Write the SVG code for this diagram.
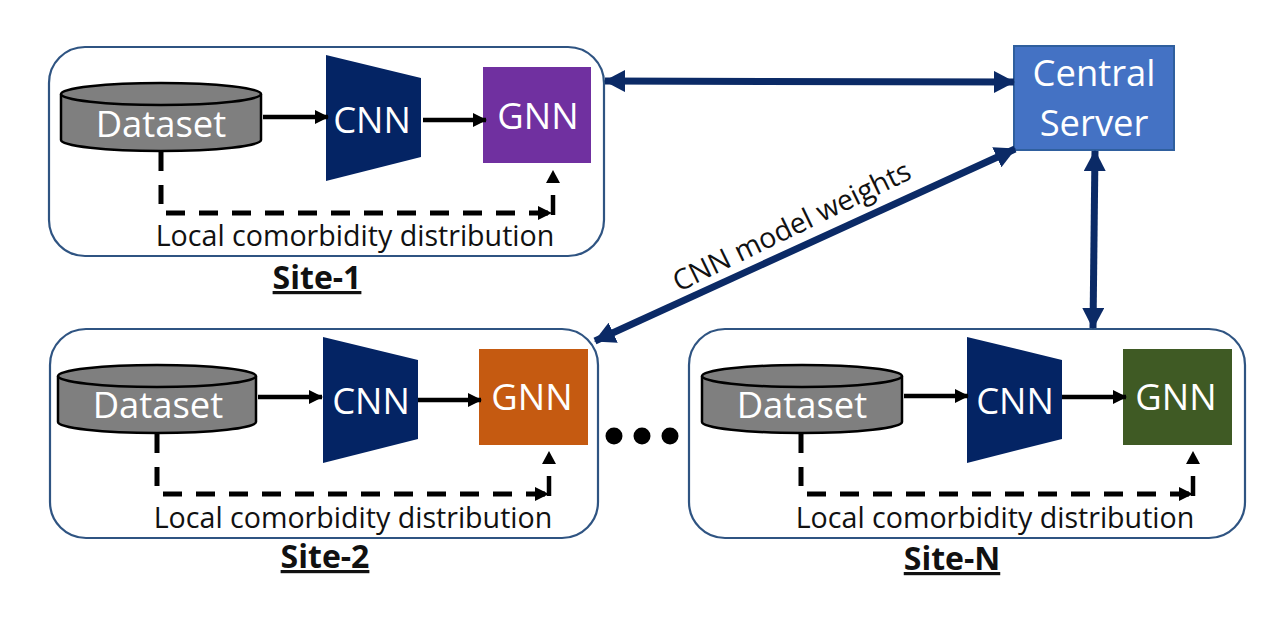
<svg xmlns="http://www.w3.org/2000/svg" width="1280" height="619" viewBox="0 0 1280 619">
<style>
text{font-family:"Open Sans","Noto Sans","Liberation Sans",sans-serif}
.site{fill:#fff;stroke:#2f5482;stroke-width:2.2}
.cyl{fill:#7f7f7f;stroke:#000;stroke-width:2.5}
.cnn{fill:#042464}
.w{fill:#fff;font-size:36.4px;text-anchor:middle}
.l{fill:#111;font-size:28.6px;text-anchor:middle}
.t{fill:#111;font-size:32px;font-weight:700;text-anchor:middle;text-decoration:underline}
.solid{fill:none;stroke:#000;stroke-width:4.5}
.dash{fill:none;stroke:#000;stroke-width:5;stroke-dasharray:19 14}
.big{fill:none;stroke:#0b2a66;stroke-width:7}
.hd{fill:#000}
.hb{fill:#0b2a66}
</style>
<defs>
<marker id="a" markerUnits="userSpaceOnUse" markerWidth="14" markerHeight="14" refX="13" refY="7" orient="auto"><path class="hd" d="M0 0L14 7L0 14z"/></marker>
<marker id="b" markerUnits="userSpaceOnUse" markerWidth="22" markerHeight="22" refX="20" refY="11" orient="auto-start-reverse"><path class="hb" d="M0 0L21 11L0 22z"/></marker>
</defs>
<g id="site-1">
<rect class="site" x="49" y="47" width="555" height="209" rx="36"/>
<path class="cyl" d="M61 94V140A100 11 0 0 0 261 140V94"/><ellipse class="cyl" cx="161" cy="94" rx="100" ry="11"/>
<text class="w" x="161" y="137">Dataset</text>
<polygon class="cnn" points="326,55 421,78 421,157 326,181"/><text class="w" x="372" y="133">CNN</text>
<rect x="483" y="67" width="108" height="96" fill="#7030a0"/><text class="w" x="538" y="129">GNN</text>
<text class="l" x="355" y="246">Local comorbidity distribution</text>
<text class="t" x="317" y="289">Site-1</text>
</g>
<g id="site-2">
<rect class="site" x="50" y="329" width="548" height="209" rx="36"/>
<path class="cyl" d="M58 376V422A99 11 0 0 0 256 422V376"/><ellipse class="cyl" cx="157" cy="376" rx="99" ry="11"/>
<text class="w" x="158" y="418">Dataset</text>
<polygon class="cnn" points="323,337 418,360 418,439 323,463"/><text class="w" x="371" y="414">CNN</text>
<rect x="479" y="349" width="109" height="96" fill="#c55a11"/><text class="w" x="532" y="410">GNN</text>
<text class="l" x="353" y="528">Local comorbidity distribution</text>
<text class="t" x="325" y="568">Site-2</text>
</g>
<g id="site-n">
<rect class="site" x="689" y="329" width="556" height="209" rx="36"/>
<path class="cyl" d="M702 376V422A100 11 0 0 0 902 422V376"/><ellipse class="cyl" cx="802" cy="376" rx="100" ry="11"/>
<text class="w" x="802" y="418">Dataset</text>
<polygon class="cnn" points="967,337 1062,360 1062,439 967,463"/><text class="w" x="1015" y="414">CNN</text>
<rect x="1123" y="349" width="109" height="96" fill="#3f5a24"/><text class="w" x="1176" y="410">GNN</text>
<text class="l" x="995" y="528">Local comorbidity distribution</text>
<text class="t" x="952" y="570">Site-N</text>
</g>
<g id="central-server">
<rect x="1014" y="46" width="160" height="104" fill="#4472c4" stroke="#2f5f9e" stroke-width="2"/>
<text class="w" x="1094" y="86">Central</text><text class="w" x="1094" y="136">Server</text>
</g>
<g id="dots"><circle cx="614" cy="436" r="8.5"/><circle cx="642" cy="436" r="8.5"/><circle cx="670" cy="436" r="8.5"/></g>
<g id="connectors">
<path class="solid" marker-end="url(#a)" d="M263 117H328"/>
<path class="solid" marker-end="url(#a)" d="M423 120H486"/>
<path class="dash" d="M161 152V213H552"/><path class="solid" d="M553 215V195"/><path class="hd" d="M553 170L560 183H546z"/><path class="hd" d="M538 206L552 213L538 220z"/>
<path class="solid" marker-end="url(#a)" d="M258 397H322"/>
<path class="solid" marker-end="url(#a)" d="M418 400H481"/>
<path class="dash" d="M157 434V494H549"/><path class="solid" d="M549 496V476"/><path class="hd" d="M549 451L556 464H542z"/><path class="hd" d="M535 487L549 494L535 501z"/>
<path class="solid" marker-end="url(#a)" d="M904 396H968"/>
<path class="solid" marker-end="url(#a)" d="M1062 397H1126"/>
<path class="dash" d="M801 434V494H1193"/><path class="solid" d="M1193 496V476"/><path class="hd" d="M1193 451L1200 464H1186z"/><path class="hd" d="M1179 487L1193 494L1179 501z"/>
<path class="big" marker-start="url(#b)" marker-end="url(#b)" d="M605 81L1014 82"/>
<path class="big" marker-start="url(#b)" marker-end="url(#b)" d="M1015 149L595 341"/>
<path class="big" marker-start="url(#b)" marker-end="url(#b)" d="M1095 151L1093 328"/>
</g>
<text x="796" y="235" font-size="28.4" fill="#111" text-anchor="middle" transform="rotate(-26 796 235)">CNN model weights</text>
</svg>
